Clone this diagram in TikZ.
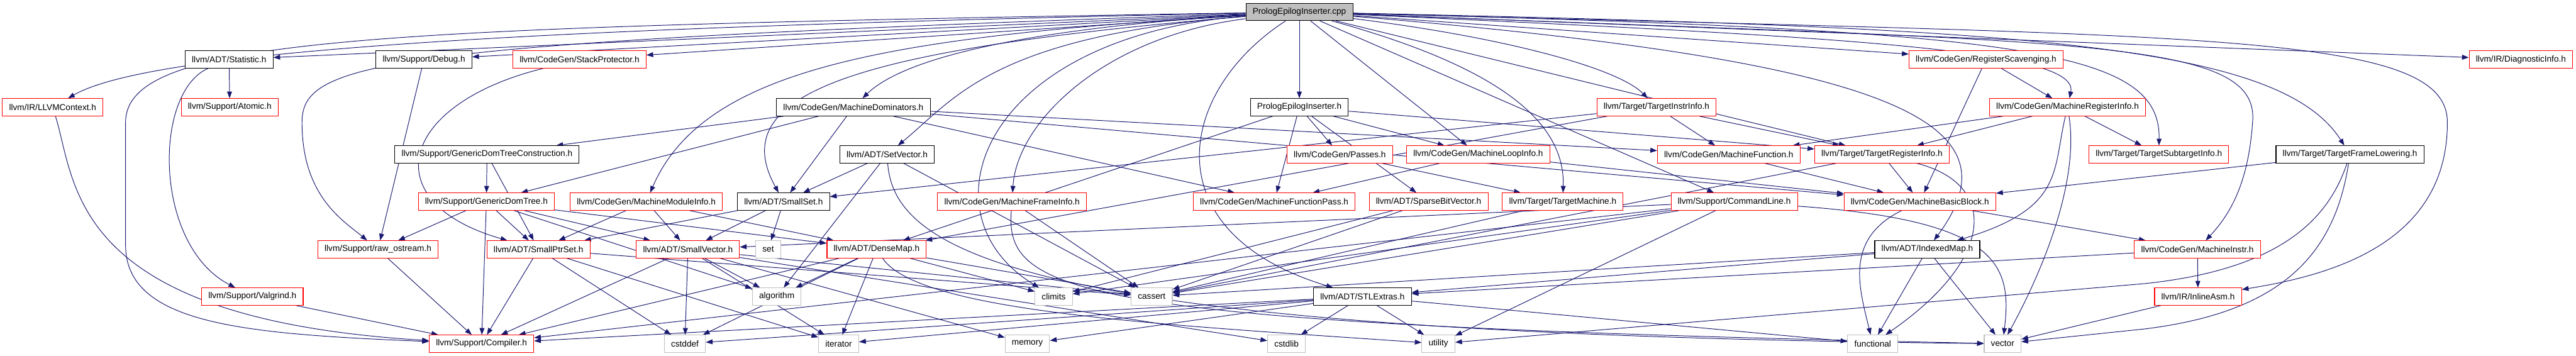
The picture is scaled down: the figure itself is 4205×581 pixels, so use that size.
\documentclass[tikz,border=0pt]{standalone}
\usepackage{fontspec}
\setmainfont{Liberation Sans}
\usetikzlibrary{arrows.meta, backgrounds}
\definecolor{edgeblue}{HTML}{191970}
\definecolor{truncred}{HTML}{FF0000}
\definecolor{boxgray}{HTML}{BFBFBF}

\tikzset{
    hdr/.style={rectangle, draw=truncred, fill=white, line width=1.1pt, minimum height=28pt,
        inner xsep=11pt, inner ysep=0pt, font=\fontsize{14}{16}\selectfont},
    doc/.style={hdr, draw=black},
    sys/.style={hdr, draw=boxgray},
    root/.style={hdr, draw=black, fill=boxgray},
    dep/.style={draw=edgeblue, line width=1pt, -{Triangle[length=11pt, width=8pt]}},
}

\begin{document}
\begin{tikzpicture}[x=1pt, y=1pt]
    \useasboundingbox (0,0) rectangle (4205,-581);

    \node[root] (cpp) at (2121,-19.5) {PrologEpilogInserter.cpp};

    \node[doc] (statistic) at (374,-97) {llvm/ADT/Statistic.h};
    \node[doc] (debug) at (692,-97) {llvm/Support/Debug.h};
    \node[hdr] (stackprot) at (946,-97) {llvm/CodeGen/StackProtector.h};
    \node[hdr] (regscav) at (3242,-97) {llvm/CodeGen/RegisterScavenging.h};
    \node[hdr] (diaginfo) at (4115,-97) {llvm/IR/DiagnosticInfo.h};

    \node[hdr] (llvmctx) at (86,-175) {llvm/IR/LLVMContext.h};
    \node[hdr] (atomic) at (375,-175) {llvm/Support/Atomic.h};
    \node[doc] (machdom) at (1393,-175) {llvm/CodeGen/MachineDominators.h};
    \node[doc] (pei) at (2121,-175) {PrologEpilogInserter.h};
    \node[hdr] (tii) at (2704,-175) {llvm/Target/TargetInstrInfo.h};
    \node[hdr] (mri) at (3375,-175) {llvm/CodeGen/MachineRegisterInfo.h};

    \node[doc] (gdtc) at (795,-252) {llvm/Support/GenericDomTreeConstruction.h};
    \node[doc] (setvec) at (1448,-252) {llvm/ADT/SetVector.h};
    \node[hdr] (passes) at (2187,-252) {llvm/CodeGen/Passes.h};
    \node[hdr] (mli) at (2413,-252) {llvm/CodeGen/MachineLoopInfo.h};
    \node[hdr] (mf) at (2822,-252) {llvm/CodeGen/MachineFunction.h};
    \node[hdr] (tri) at (3072,-252) {llvm/Target/TargetRegisterInfo.h};
    \node[hdr] (tsi) at (3524,-252) {llvm/Target/TargetSubtargetInfo.h};
    \node[doc] (tfl) at (3836,-252) {llvm/Target/TargetFrameLowering.h};

    \node[hdr] (gdt) at (794,-329) {llvm/Support/GenericDomTree.h};
    \node[hdr] (mmi) at (1055,-329) {llvm/CodeGen/MachineModuleInfo.h};
    \node[doc] (smallset) at (1279,-329) {llvm/ADT/SmallSet.h};
    \node[hdr] (mfi) at (1652,-329) {llvm/CodeGen/MachineFrameInfo.h};
    \node[hdr] (mfp) at (2080,-329) {llvm/CodeGen/MachineFunctionPass.h};
    \node[hdr] (sbv) at (2332,-329) {llvm/ADT/SparseBitVector.h};
    \node[hdr] (tm) at (2551,-329) {llvm/Target/TargetMachine.h};
    \node[hdr] (cl) at (2831,-329) {llvm/Support/CommandLine.h};
    \node[hdr] (mbb) at (3134,-329) {llvm/CodeGen/MachineBasicBlock.h};

    \node[hdr] (rawos) at (617,-407) {llvm/Support/raw\_ostream.h};
    \node[hdr] (smallptrset) at (879,-407) {llvm/ADT/SmallPtrSet.h};
    \node[hdr] (smallvec) at (1123,-407) {llvm/ADT/SmallVector.h};
    \node[sys] (set) at (1254,-407) {set};
    \node[hdr] (densemap) at (1431,-407) {llvm/ADT/DenseMap.h};
    \node[doc] (indexedmap) at (3146,-407) {llvm/ADT/IndexedMap.h};
    \node[hdr] (minstr) at (3587,-407) {llvm/CodeGen/MachineInstr.h};

    \node[hdr] (valgrind) at (412,-484) {llvm/Support/Valgrind.h};
    \node[sys] (algorithm) at (1268,-484) {algorithm};
    \node[sys] (climits) at (1720,-484) {climits};
    \node[sys] (cassert) at (1880,-484) {cassert};
    \node[doc] (stlextras) at (2224,-484) {llvm/ADT/STLExtras.h};
    \node[hdr] (inlineasm) at (3588,-484) {llvm/IR/InlineAsm.h};

    \node[hdr] (compiler) at (786,-561) {llvm/Support/Compiler.h};
    \node[sys] (cstddef) at (1118,-561) {cstddef};
    \node[sys] (iterator) at (1369,-561) {iterator};
    \node[sys] (memory) at (1677,-561) {memory};
    \node[sys] (cstdlib) at (2100,-561) {cstdlib};
    \node[sys] (utility) at (2348,-561) {utility};
    \node[sys] (functional) at (3057,-561) {functional};
    \node[sys] (vector) at (3269,-561) {vector};

    \begin{scope}[on background layer]
    \draw[dep] (cpp) -- (pei);
    \draw[dep] (cpp) -- (statistic);
    \draw[dep] (cpp) -- (debug);
    \draw[dep] (cpp) -- (stackprot);
    \draw[dep] (cpp) -- (regscav);
    \draw[dep] (cpp) -- (diaginfo);
    \draw[dep] (cpp) -- (mli);
    \draw[dep] (cpp) -- (tri);
    \draw[dep] (cpp) -- (cl);
    \draw[dep] (cpp) .. controls (900,-45) and (250,-80) .. (llvmctx);
    \draw[dep] (cpp) .. controls (600,-45) and (205,-60) .. (205,-200) -- (205,-400)
        .. controls (205,-530) and (400,-545) .. (compiler);
    \draw[dep] (cpp) .. controls (620,-70) and (493,-100) .. (493,-200)
        .. controls (493,-320) and (560,-360) .. (rawos);
    \draw[dep] (cpp) .. controls (1700,-45) and (1480,-90) .. (machdom);
    \draw[dep] (cpp) .. controls (1620,-60) and (1560,-160) .. (setvec);
    \draw[dep] (cpp) .. controls (1450,-60) and (1150,-110) .. (mmi);
    \draw[dep] (cpp) .. controls (1400,-80) and (1180,-150) .. (smallset);
    \draw[dep] (cpp) .. controls (1800,-60) and (1660,-200) .. (mfi);
    \draw[dep] (cpp) .. controls (1600,-60) and (1500,-350) .. (climits);
    \draw[dep] (cpp) .. controls (1920,-150) and (1880,-380) .. (stlextras);
    \draw[dep] (cpp) .. controls (2450,-110) and (2555,-200) .. (tm);
    \draw[dep] (cpp) .. controls (2450,-60) and (2640,-110) .. (tii);
    \draw[dep] (cpp) .. controls (3100,-100) and (3300,-200) .. (indexedmap);
    \draw[dep] (cpp) .. controls (3000,-60) and (3395,-80) .. (mri);
    \draw[dep] (cpp) .. controls (3300,-50) and (3527,-80) .. (tsi);
    \draw[dep] (cpp) .. controls (3300,-45) and (3720,-70) .. (tfl);
    \draw[dep] (cpp) .. controls (3400,-70) and (3690,-60) .. (3677,-200)
        .. controls (3670,-300) and (3640,-350) .. (minstr);
    \draw[dep] (cpp) .. controls (3600,-60) and (3995,-50) .. (3995,-200)
        .. controls (3995,-400) and (3800,-450) .. (inlineasm);

    \draw[dep] (pei) -- (densemap);
    \draw[dep] (pei) -- (sbv);
    \draw[dep] (pei) -- (mfp);
    \draw[dep] (pei) -- (mli);
    \draw[dep] (pei) -- (passes);
    \draw[dep] (pei) -- (tri);
    \draw[dep] (statistic) -- (atomic);
    \draw[dep] (statistic) .. controls (250,-150) and (250,-400) .. (valgrind);
    \draw[dep] (llvmctx) .. controls (125,-300) and (110,-520) .. (compiler);
    \draw[dep] (valgrind) -- (compiler);
    \draw[dep] (debug) -- (rawos);
    \draw[dep] (stackprot) .. controls (650,-170) and (610,-330) .. (smallptrset);
    \draw[dep] (regscav) -- (mri);
    \draw[dep] (regscav) -- (mbb);
    \draw[dep] (machdom) -- (gdtc);
    \draw[dep] (machdom) -- (gdt);
    \draw[dep] (machdom) -- (smallset);
    \draw[dep] (machdom) -- (mf);
    \draw[dep] (machdom) -- (mbb);
    \draw[dep] (machdom) -- (mfp);
    \draw[dep] (tii) -- (smallset);
    \draw[dep] (tii) -- (densemap);
    \draw[dep] (tii) -- (mf);
    \draw[dep] (tii) -- (tri);
    \draw[dep] (mri) -- (mf);
    \draw[dep] (mri) -- (tri);
    \draw[dep] (mri) -- (tsi);
    \draw[dep] (mri) .. controls (3350,-280) and (3370,-340) .. (indexedmap);
    \draw[dep] (mri) .. controls (3395,-300) and (3330,-450) .. (vector);
    \draw[dep] (gdtc) -- (gdt);
    \draw[dep] (gdtc) -- (smallptrset);
    \draw[dep] (setvec) -- (smallset);
    \draw[dep] (setvec) -- (algorithm);
    \draw[dep] (setvec) -- (cassert);
    \draw[dep] (setvec) .. controls (1460,-420) and (1700,-545) .. (vector);
    \draw[dep] (passes) -- (tm);
    \draw[dep] (mli) -- (mfp);
    \draw[dep] (mli) -- (mbb);
    \draw[dep] (mf) -- (mbb);
    \draw[dep] (tri) -- (mbb);
    \draw[dep] (tri) -- (cassert);
    \draw[dep] (tri) .. controls (3260,-300) and (3260,-420) .. (functional);
    \draw[dep] (tfl) -- (mbb);
    \draw[dep] (tfl) .. controls (3800,-360) and (3720,-440) .. (3500,-463) -- (utility);
    \draw[dep] (tfl) .. controls (3810,-420) and (3720,-510) .. (3500,-537) -- (vector);
    \draw[dep] (mbb) .. controls (3010,-390) and (3035,-470) .. (functional);
    \draw[dep] (mbb) -- (minstr);
    \draw[dep] (minstr) -- (inlineasm);
    \draw[dep] (minstr) -- (stlextras);
    \draw[dep] (inlineasm) -- (vector);
    \draw[dep] (indexedmap) -- (stlextras);
    \draw[dep] (indexedmap) -- (cassert);
    \draw[dep] (indexedmap) -- (functional);
    \draw[dep] (indexedmap) -- (vector);
    \draw[dep] (gdt) -- (smallptrset);
    \draw[dep] (gdt) -- (compiler);
    \draw[dep] (gdt) -- (smallvec);
    \draw[dep] (gdt) -- (densemap);
    \draw[dep] (gdt) -- (algorithm);
    \draw[dep] (gdt) -- (rawos);
    \draw[dep] (mmi) -- (smallptrset);
    \draw[dep] (mmi) -- (smallvec);
    \draw[dep] (mmi) -- (densemap);
    \draw[dep] (smallset) -- (set);
    \draw[dep] (smallset) -- (smallvec);
    \draw[dep] (smallset) -- (smallptrset);
    \draw[dep] (mfi) -- (cassert);
    \draw[dep] (mfi) .. controls (1640,-480) and (1750,-530) .. (vector);
    \draw[dep] (sbv) -- (cassert);
    \draw[dep] (sbv) -- (climits);
    \draw[dep] (tm) -- (cassert);
    \draw[dep] (cl) -- (smallvec);
    \draw[dep] (cl) -- (climits);
    \draw[dep] (cl) -- (cassert);
    \draw[dep] (cl) -- (utility);
    \draw[dep] (cl) -- (compiler);
    \draw[dep] (cl) .. controls (3260,-360) and (3285,-430) .. (vector);
    \draw[dep] (rawos) -- (compiler);
    \draw[dep] (smallptrset) -- (compiler);
    \draw[dep] (smallptrset) -- (cstddef);
    \draw[dep] (smallptrset) -- (iterator);
    \draw[dep] (smallptrset) -- (cassert);
    \draw[dep] (smallvec) -- (compiler);
    \draw[dep] (smallvec) -- (cstddef);
    \draw[dep] (smallvec) -- (algorithm);
    \draw[dep] (smallvec) -- (iterator);
    \draw[dep] (smallvec) -- (memory);
    \draw[dep] (smallvec) -- (cstdlib);
    \draw[dep] (smallvec) -- (cassert);
    \draw[dep] (densemap) -- (climits);
    \draw[dep] (densemap) -- (cassert);
    \draw[dep] (densemap) -- (algorithm);
    \draw[dep] (densemap) -- (compiler);
    \draw[dep] (densemap) -- (cstddef);
    \draw[dep] (densemap) -- (iterator);
    \draw[dep] (densemap) .. controls (1500,-510) and (1900,-530) .. (utility);
    \draw[dep] (stlextras) -- (cstddef);
    \draw[dep] (stlextras) -- (cstdlib);
    \draw[dep] (stlextras) -- (utility);
    \draw[dep] (stlextras) -- (functional);
    \draw[dep] (stlextras) -- (iterator);
    \draw[dep] (stlextras) -- (memory);
    \draw[dep] (stlextras) -- (compiler);
    \end{scope}
\end{tikzpicture}
\end{document}
